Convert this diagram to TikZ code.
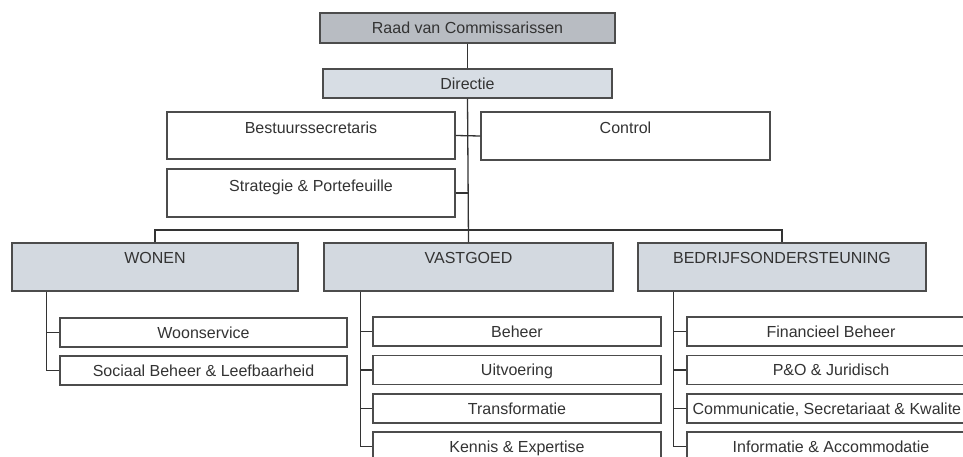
\documentclass[tikz,border=0pt]{standalone}
\usepackage{fontspec}
\setmainfont{Liberation Sans}
\begin{document}
\begin{tikzpicture}[x=1pt,y=-1pt,
  line width=1.2pt,
  every node/.style={font=\fontsize{16}{18}\selectfont, text=black!80},
  conn/.style={draw=black!80, line width=1.3pt},
  bx/.style={draw=black!70, line width=1.3pt, fill=white, inner sep=0pt, minimum width=#1},
  bx/.default=288pt,
  midtext/.style={text height=12pt, text depth=0.5pt},
  childbox/.style={bx, minimum height=29pt, midtext},
]
\useasboundingbox (0,0) rectangle (963,457);
\fill[white] (0,0) rectangle (963,457);

\node[bx=295pt, minimum height=30pt, midtext, fill={rgb,255:red,184;green,188;blue,194}] (raad) at (467.5,28) {Raad van Commissarissen};
\node[bx=289pt, minimum height=29pt, midtext, fill={rgb,255:red,215;green,221;blue,228}] (dir) at (467.5,83.5) {Directie};

\node[bx=288pt, text height=22pt, text depth=25pt] (bes) at (311,135.5) {Bestuurssecretaris};
\node[bx=289pt, text height=22pt, text depth=26pt] (con) at (625.5,136) {Control};
\node[bx=288pt, text height=22pt, text depth=26pt] (str) at (311,193) {Strategie \& Portefeuille};

\node[bx=286pt, text height=20pt, text depth=28pt, fill={rgb,255:red,211;green,217;blue,224}] (wonen) at (155,267) {WONEN};
\node[bx=289pt, text height=20pt, text depth=28pt, fill={rgb,255:red,211;green,217;blue,224}] (vast) at (468.5,267) {VASTGOED};
\node[bx=288pt, text height=20pt, text depth=28pt, fill={rgb,255:red,211;green,217;blue,224}] (bedr) at (782,267) {BEDRIJFSONDERSTEUNING};

\node[childbox, minimum width=287pt] (w1) at (203.5,332.5) {Woonservice};
\node[childbox, minimum width=287pt] (w2) at (203.5,370.5) {Sociaal Beheer \& Leefbaarheid};

\node[childbox] (v1) at (517,331.5) {Beheer};
\node[childbox] (v2) at (517,370) {Uitvoering};
\node[childbox] (v3) at (517,408.5) {Transformatie};
\node[childbox] (v4) at (517,446.5) {Kennis \& Expertise};

\node[childbox] (b1) at (831,331.5) {Financieel Beheer};
\node[childbox] (b2) at (831,370) {P\&O \& Juridisch};
\node[childbox] (b3) at (831,408.5) {};
\node[anchor=west, inner sep=0pt, midtext] (b3t) at (692,408.5) {Communicatie, Secretariaat \& Kwalite};
\node[childbox] (b4) at (831,446.5) {Informatie \& Accommodatie};

% top connectors
\draw[conn] (raad.south) -- (dir.north);
\draw[conn] (dir.south) -- (vast.north);
\draw[conn] (bes.east) -- (con.west);
\coordinate (sj) at (dir.south |- str.east);
\draw[conn] (str.east) -- (sj);
\coordinate (busy) at (0,230);
\draw[conn] (wonen.north) -- (wonen.north |- busy) -- (bedr.north |- busy) -- (bedr.north);

% child connectors
\coordinate (wb) at ([xshift=35pt]wonen.south west);
\draw[conn] (wb) |- (w2.west);
\draw[conn] (wb |- w1.west) -- (w1.west);

\coordinate (vb) at ([xshift=37pt]vast.south west);
\draw[conn] (vb) |- (v4.west);
\draw[conn] (vb |- v1.west) -- (v1.west);
\draw[conn] (vb |- v2.west) -- (v2.west);
\draw[conn] (vb |- v3.west) -- (v3.west);

\coordinate (bb) at ([xshift=36pt]bedr.south west);
\draw[conn] (bb) |- (b4.west);
\draw[conn] (bb |- b1.west) -- (b1.west);
\draw[conn] (bb |- b2.west) -- (b2.west);
\draw[conn] (bb |- b3.west) -- (b3.west);
\end{tikzpicture}
\end{document}
